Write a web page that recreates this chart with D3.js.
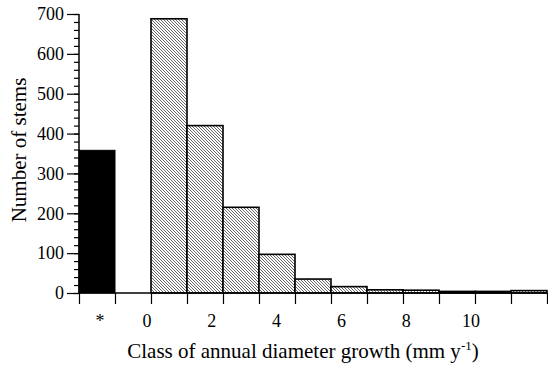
<!DOCTYPE html>
<html>
<head>
<meta charset="utf-8">
<script src="https://cdn.jsdelivr.net/npm/d3@7"></script>
<style>
  html, body { margin: 0; padding: 0; background: #fff; }
  svg { display: block; }
  text { font-family: "Liberation Serif", "Times New Roman", serif; fill: #000; }
</style>
</head>
<body>
<svg id="chart" width="548" height="365"></svg>
<script>
// Stems with no measurable growth ("*" class)
const zeroClassLabel = "*";
const zeroClassCount = 358;

// Growth classes (mm per year), lower bound of each 1-mm class
const classStarts = [0, 1, 2, 3, 4, 5, 6, 7, 8, 9, 10];
const classCounts = [688, 420, 215, 97, 35, 16, 8, 7, 4, 4, 6];

// Axis tick values
const yMajorTicks = [0, 100, 200, 300, 400, 500, 600, 700];
const xTickLabels = [0, 2, 4, 6, 8, 10];

const svg = d3.select("#chart");

const x = d3.scaleLinear().domain([-2, 11]).range([79, 547]);
const y = d3.scaleLinear().domain([0, 700]).range([293, 14]);

// Label placement along the growth axis
const labelX = d3.scaleLinear().domain([0, 10]).range([x(0) - 4, x(9) - 4]);

// Diagonal hatching for the growth classes
const defs = svg.append("defs");
const pat = defs.append("pattern")
  .attr("id", "hatch")
  .attr("patternUnits", "userSpaceOnUse")
  .attr("width", 3).attr("height", 3);
pat.append("rect").attr("width", 3).attr("height", 3).attr("fill", "#fff");
pat.append("path")
  .attr("d", "M-1,-1L4,4M-1,2L1,4M2,-1L4,1")
  .attr("stroke", "#4a4a4a").attr("stroke-width", 0.85);

// "*" class bar
svg.append("rect")
  .attr("x", x(-2)).attr("width", x(-1) - x(-2))
  .attr("y", y(zeroClassCount)).attr("height", y(0) - y(zeroClassCount))
  .attr("fill", "#000").attr("stroke", "#000").attr("stroke-width", 1);

// Growth class bars
const bars = classStarts.map((s, i) => ({ start: s, count: classCounts[i] }));
svg.append("g").selectAll("rect").data(bars).join("rect")
  .attr("x", d => x(d.start)).attr("width", d => x(d.start + 1) - x(d.start))
  .attr("y", d => y(d.count)).attr("height", d => y(0) - y(d.count))
  .attr("fill", "url(#hatch)").attr("stroke", "#000").attr("stroke-width", 1.6);

// Y axis
const yAxis = svg.append("g").attr("transform", `translate(${x(-2)},0)`);
yAxis.call(d3.axisLeft(y).tickValues(d3.range(0, 701, 20)).tickSize(5).tickFormat(""))
  .call(g => g.select(".domain").remove());
yAxis.append("g")
  .call(d3.axisLeft(y).tickValues(yMajorTicks).tickSize(12).tickPadding(3).tickFormat(d3.format("d")))
  .call(g => g.select(".domain").remove())
  .call(g => g.selectAll("text").attr("font-size", 18).attr("font-family", "Liberation Serif").attr("fill", "#000"));
yAxis.selectAll("line").attr("stroke", "#000").attr("stroke-width", 1.2);
yAxis.append("line").attr("x1", 0).attr("x2", 0).attr("y1", y(700)).attr("y2", y(0))
  .attr("stroke", "#000").attr("stroke-width", 1.5);

// X axis: ticks at class boundaries
const xAxis = svg.append("g").attr("transform", `translate(0,${y(0)})`);
xAxis.call(d3.axisBottom(x).tickValues(d3.range(-2, 12, 1)).tickSize(11).tickFormat(""))
  .call(g => g.select(".domain").remove());
xAxis.selectAll("line").attr("stroke", "#000").attr("stroke-width", 1.2);
xAxis.append("line").attr("x1", x(-2)).attr("x2", x(11)).attr("y1", 0).attr("y2", 0)
  .attr("stroke", "#000").attr("stroke-width", 1.5);

// X tick labels
svg.append("g").selectAll("text").data(xTickLabels).join("text")
  .attr("x", d => labelX(d)).attr("y", 327)
  .attr("text-anchor", "middle").attr("font-size", 18)
  .text(d => d);
svg.append("text")
  .attr("x", (x(-2) + x(-1)) / 2 + 3).attr("y", 327)
  .attr("text-anchor", "middle").attr("font-size", 18)
  .text(zeroClassLabel);

// Axis titles
const xt = svg.append("text")
  .attr("x", 303).attr("y", 358)
  .attr("text-anchor", "middle").attr("font-size", 21);
xt.append("tspan").text("Class of annual diameter growth (mm y");
xt.append("tspan").attr("font-size", 13).attr("dy", -8).text("-1");
xt.append("tspan").attr("dy", 8).text(")");

svg.append("text")
  .attr("transform", `translate(26,${150}) rotate(-90)`)
  .attr("text-anchor", "middle").attr("font-size", 21)
  .text("Number of stems");
</script>
</body>
</html>
